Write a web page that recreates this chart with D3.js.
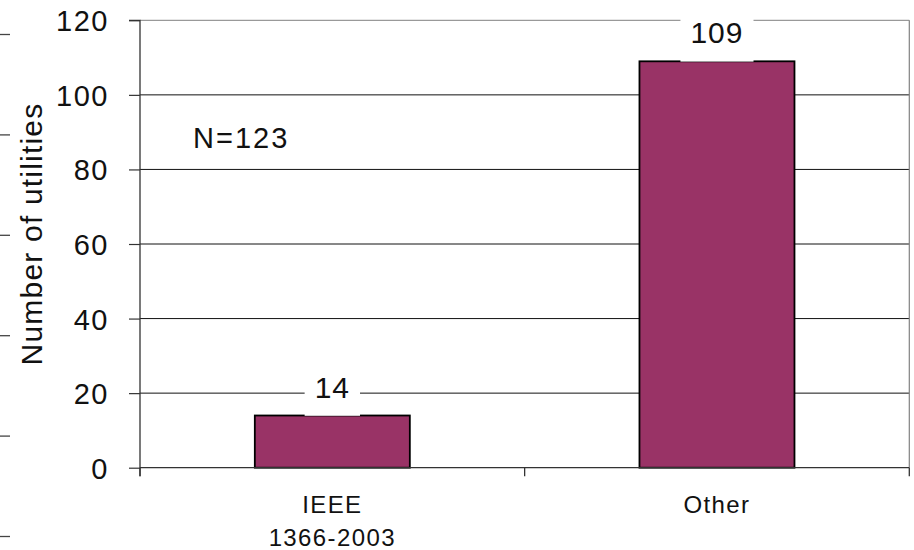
<!DOCTYPE html>
<html>
<head>
<meta charset="utf-8">
<script src="https://cdn.jsdelivr.net/npm/d3@7"></script>
<style>
  html, body { margin: 0; padding: 0; background: #fff; }
  svg { display: block; font-family: "Liberation Sans", Arial, sans-serif; }
</style>
</head>
<body>
<svg id="chart" width="914" height="550"></svg>
<script>
// Survey of utilities: which reliability-index standard they follow
const categories = ["IEEE\n1366-2003", "Other"];
const utilityCounts = [14, 109];
const yTickValues = [0, 20, 40, 60, 80, 100, 120];
const sampleNote = "N=123";
const yTitle = "Number of utilities";

const svg = d3.select("#chart");
const W = 914, H = 550;
const plot = { left: 140, right: 909.3, top: 20.3, bottom: 467.7 };

const y = d3.scaleLinear().domain([0, 120]).range([plot.bottom, plot.top]);
const x = d3.scaleBand().domain(categories)
  .range([plot.left, plot.right])
  .paddingInner(0.597).paddingOuter(0.2985);

// short dashes along the left edge (ticks of a neighbouring panel)
const edge = d3.scaleLinear().domain([0, 5]).range([34.5, 536.5]);
svg.append("g").selectAll("line").data(d3.range(6)).join("line")
  .attr("x1", 0).attr("x2", 10)
  .attr("y1", d => edge(d)).attr("y2", d => edge(d))
  .attr("stroke", "#444").attr("stroke-width", 1.3);

// horizontal gridlines
svg.append("g").selectAll("line").data(yTickValues.filter(v => v > 0)).join("line")
  .attr("x1", plot.left).attr("x2", plot.right)
  .attr("y1", d => y(d)).attr("y2", d => y(d))
  .attr("stroke", d => d === 120 ? "#808080" : "#111")
  .attr("stroke-width", 1);

// right border of the plot area
svg.append("line")
  .attr("x1", plot.right).attr("x2", plot.right)
  .attr("y1", plot.top).attr("y2", plot.bottom)
  .attr("stroke", "#808080").attr("stroke-width", 1.2);

// bars
svg.append("g").selectAll("rect").data(categories).join("rect")
  .attr("x", d => x(d))
  .attr("y", (d, i) => y(utilityCounts[i]))
  .attr("width", x.bandwidth())
  .attr("height", (d, i) => y(0) - y(utilityCounts[i]))
  .attr("fill", "#993366")
  .attr("stroke", "#000").attr("stroke-width", 1.8);

// value labels on white boxes
const valueG = svg.append("g");
categories.forEach((c, i) => {
  const v = utilityCounts[i];
  const cx = x(c) + x.bandwidth() / 2;
  const t = valueG.append("text")
    .attr("x", cx).attr("y", y(v) - 18)
    .attr("text-anchor", "middle")
    .attr("font-size", 30).attr("letter-spacing", 1)
    .attr("fill", "#111")
    .text(v);
  const bb = t.node().getBBox();
  valueG.insert("rect", "text")
    .attr("x", bb.x - 10).attr("width", bb.width + 20)
    .attr("y", y(v) - 50).attr("height", 50.3)
    .attr("fill", "#fff");
});

// y axis
const yAxis = d3.axisLeft(y).tickValues(yTickValues).tickSize(11).tickPadding(20);
const ya = svg.append("g").attr("transform", `translate(${plot.left},0)`).call(yAxis);
ya.select(".domain").attr("stroke", "#333").attr("stroke-width", 1.3)
  .attr("d", `M-11,${plot.top}H0V${plot.bottom + 8.5}`);
ya.selectAll(".tick line").attr("stroke", "#333").attr("stroke-width", 1.2);
ya.selectAll(".tick text")
  .attr("font-size", 29).attr("letter-spacing", 1.5)
  .attr("font-family", "Liberation Sans, Arial, sans-serif")
  .attr("fill", "#111").attr("dy", "0.36em");

// x axis baseline with ticks at category boundaries
svg.append("line")
  .attr("x1", plot.left).attr("x2", plot.right)
  .attr("y1", y(0)).attr("y2", y(0))
  .attr("stroke", "#333").attr("stroke-width", 1.3);
const bounds = [plot.left, plot.left + x.step(), plot.right];
svg.append("g").selectAll("line").data(bounds).join("line")
  .attr("x1", d => d).attr("x2", d => d)
  .attr("y1", y(0)).attr("y2", y(0) + 8.5)
  .attr("stroke", "#333").attr("stroke-width", 1.3);

// category labels (two-line where needed)
svg.append("g").selectAll("text").data(categories).join("text")
  .attr("text-anchor", "middle")
  .attr("font-size", 24).attr("letter-spacing", 1.4)
  .attr("fill", "#111")
  .each(function (d) {
    const cx = x(d) + x.bandwidth() / 2;
    d.split("\n").forEach((line, k) => {
      d3.select(this).append("tspan")
        .attr("x", cx).attr("y", 513 + k * 33)
        .text(line);
    });
  });

// sample size note
svg.append("text")
  .attr("x", 193).attr("y", 148)
  .attr("font-size", 29).attr("letter-spacing", 2)
  .attr("fill", "#111")
  .text(sampleNote);

// y-axis title
svg.append("text")
  .attr("transform", `translate(42,234) rotate(-90)`)
  .attr("text-anchor", "middle")
  .attr("font-size", 30).attr("letter-spacing", 1.2)
  .attr("fill", "#111")
  .text(yTitle);
</script>
</body>
</html>
